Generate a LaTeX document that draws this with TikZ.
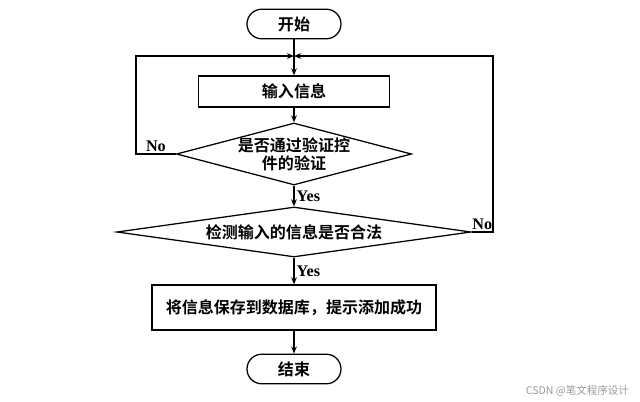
\documentclass[tikz,border=0pt]{standalone}
\usepackage{fontspec}
\setmainfont{Liberation Serif}
\newfontfamily\cjk{Noto Sans CJK SC Bold}
\newfontfamily\cjkthin{Noto Sans CJK SC}
\usetikzlibrary{shapes.geometric, arrows.meta}

\begin{document}
\begin{tikzpicture}[x = 0.025cm, y = -0.025cm,
        every node/.style = {font = \cjk\fontsize{11.4}{13}\selectfont},
        term/.style = {draw, line width = 0.9pt, rounded corners = 0.37cm,
            minimum width = 2.35cm, minimum height = 0.74cm},
        proc/.style = {draw, line width = 0.9pt},
        decide/.style = {draw, diamond, line width = 0.9pt, inner sep = -1pt},
        tag/.style = {font = \rmfamily\bfseries\fontsize{11.5}{13}\selectfont, inner sep = 1.5pt},
        line/.style = {line width = 0.9pt, -{Stealth[length = 5pt, width = 4pt]}}]
    \useasboundingbox (0, 0) rectangle (640, 402);

    % blocks
    \node[term] (start) at (294, 24) {开始};
    \node[proc, minimum width = 4.775cm, minimum height = 0.775cm] (input) at (294, 91.5) {输入信息};
    \node[decide, aspect = 3.8, minimum width = 5.875cm, minimum height = 1.55cm,
        align = center] (check) at (294, 154) {是否通过验证控\\件的验证};
    \node[decide, aspect = 8, minimum width = 8.85cm, minimum height = 1.25cm] (valid) at (294, 232) {检测输入的信息是否合法};
    \node[proc, minimum width = 7.1cm, minimum height = 1.125cm] (save) at (294, 307.5) {将信息保存到数据库，提示添加成功};
    \node[term] (stop) at (294, 369) {结束};

    % loop corners
    \coordinate (join) at (294, 56);
    \coordinate (loopL) at (136, 56);
    \coordinate (loopR) at (493, 56);

    % arrows
    \draw[line] (start) -- (input);
    \draw[line] (input) -- (check);
    \draw[line] (check) -- node[tag, right] {Yes} (valid);
    \draw[line] (valid) -- node[tag, right] {Yes} (save);
    \draw[line] (save) -- (stop);
    \draw[line] (check.west) -| node[tag, above, pos = 0.25] {No} (loopL) -- (join);
    \draw[line] (valid.east) -| node[tag, above, pos = 0.25] {No} (loopR) -- (join);

    \node[font = \cjkthin\fontsize{7.5}{9}\selectfont, text = black!40, anchor = east] (mark) at (634, 391) {CSDN @笔文程序设计};
\end{tikzpicture}
\end{document}
